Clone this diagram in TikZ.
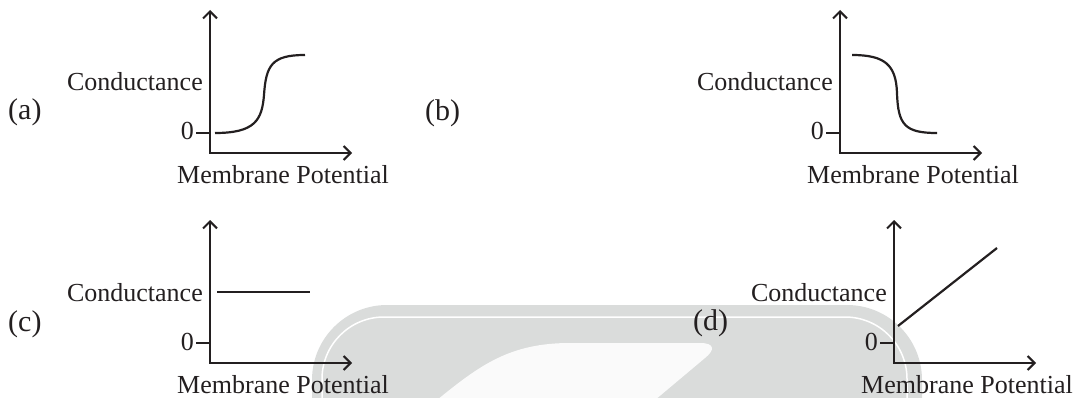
\documentclass[tikz,border=0pt]{standalone}
\usepackage{fontspec}
\setmainfont{Liberation Serif}
\usetikzlibrary{arrows.meta}
\definecolor{wmgray}{RGB}{218,220,219}
\definecolor{wmlight}{RGB}{250,250,250}
\definecolor{ink}{RGB}{35,31,32}

\begin{document}
\begin{tikzpicture}[x=1pt, y=-1pt, color=ink,
        axis/.style={line width=2pt, line cap=rect, -{Straight Barb[length=7pt, width=14pt, line width=2pt]}},
        curve/.style={line width=2.2pt},
        lbl/.style={inner sep=0pt, font=\fontsize{26}{30}\selectfont},
        tag/.style={inner sep=0pt, font=\fontsize{30}{34}\selectfont}]
        \useasboundingbox (0,0) rectangle (1078,398);
        \clip (0,0) rectangle (1078,398);

        % watermark behind the lower panels
        \fill[wmgray, rounded corners=75pt] (312,480) rectangle (922,305);
        \draw[white, line width=1.5pt, rounded corners=62pt] (322,480) rectangle (907,317);
        \fill[wmlight] (437,400) .. controls (480,365) and (510,343) .. (570,343) -- (700,343)
            .. controls (715,343) and (715,350) .. (705,358) -- (655,400) -- cycle;

        % axes, ticks and axis labels
        \foreach \n/\ox/\oy in {a/210/153, b/840/153, c/210/363, d/894/363} {
            \begin{scope}[shift={(\ox,\oy)}]
                \coordinate (\n-o) at (0,0);
                \coordinate (\n-y) at (0,-143);
                \coordinate (\n-x) at (142,0);
                \coordinate (\n-t) at (-14,-20);
                \coordinate (\n-s) at (0,-20);
                \node[lbl, anchor=base east] (\n-zero) at (-16,-13) {0};
                \node[lbl, anchor=base east] (\n-cond) at (-7,-62) {Conductance};
                \node[lbl, anchor=base] (\n-mem) at (73,30) {Membrane Potential};
            \end{scope}
            \draw[axis] (\n-o) -- (\n-y);
            \draw[axis] (\n-o) -- (\n-x);
            \draw[line width=2.6pt] (\n-t) -- (\n-s);
        }

        \node[tag, anchor=base west] (lab-a) at (8,120) {(a)};
        \node[tag, anchor=base west] (lab-b) at (425,121) {(b)};
        \node[tag, anchor=base west] (lab-c) at (8,331) {(c)};
        \node[tag, anchor=base west] (lab-d) at (693,330) {(d)};

        % conductance curves
        \draw[curve] (215,133) .. controls (255,133) and (262,120) .. (264,95)
            .. controls (266,65) and (272,55) .. (305,55);
        \draw[curve] (852,55) .. controls (885,55) and (896,65) .. (897,93)
            .. controls (898,125) and (905,133) .. (937,133);
        \draw[curve] (217,292) -- (310,292);
        \draw[curve] (898,326) -- (997,248);
    \end{tikzpicture}
\end{document}
